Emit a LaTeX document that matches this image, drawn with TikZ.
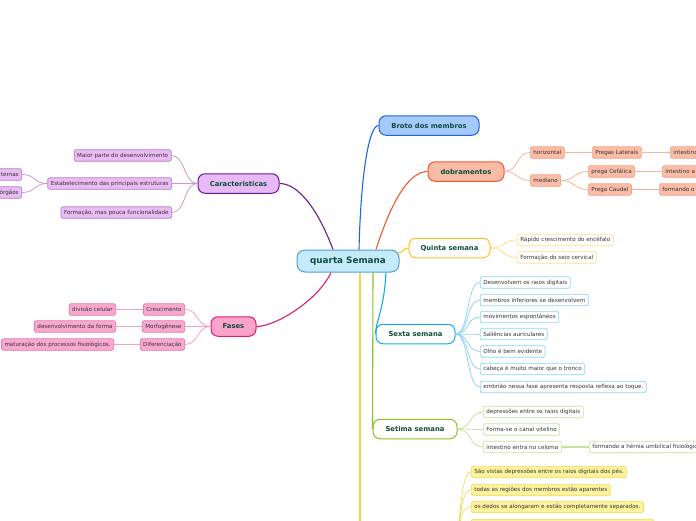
\documentclass[tikz,border=0pt]{standalone}
\usepackage{fontspec}
\setmainfont{DejaVu Sans}
\definecolor{tealtxt}{HTML}{0F4C3C}
\definecolor{leaftxt}{HTML}{333333}
\definecolor{cenfill}{HTML}{C5EBFB}
\definecolor{cendraw}{HTML}{4C9FD4}
\definecolor{brfill}{HTML}{A5C9FA}
\definecolor{brdraw}{HTML}{1F66D6}
\definecolor{dofill}{HTML}{F8BBA6}
\definecolor{dodraw}{HTML}{F2582A}
\definecolor{dolfill}{HTML}{FBBDA7}
\definecolor{doldraw}{HTML}{F6A084}
\definecolor{dolline}{HTML}{F8B39C}
\definecolor{qudraw}{HTML}{F9C030}
\definecolor{quldraw}{HTML}{FDDF8E}
\definecolor{sedraw}{HTML}{19A8E6}
\definecolor{seldraw}{HTML}{8FD4F4}
\definecolor{stdraw}{HTML}{88C322}
\definecolor{stldraw}{HTML}{C6E29C}
\definecolor{cafill}{HTML}{E7B9F6}
\definecolor{cadraw}{HTML}{6D1D8A}
\definecolor{calfill}{HTML}{E9BCF4}
\definecolor{caldraw}{HTML}{B57BC8}
\definecolor{calline}{HTML}{C59AD6}
\definecolor{fafill}{HTML}{FBA4CB}
\definecolor{fadraw}{HTML}{E5196D}
\definecolor{falfill}{HTML}{F8A9CF}
\definecolor{faldraw}{HTML}{EA73AD}
\definecolor{falline}{HTML}{F2A1C6}
\definecolor{yeline}{HTML}{EFD93A}
\definecolor{yelfill}{HTML}{FDF29E}
\definecolor{yeldraw}{HTML}{F1DC66}
\begin{document}
\begin{tikzpicture}[x=1pt,y=-1pt,
  mainnode/.style={rounded corners=7pt, line width=1pt, text=tealtxt,
    font=\fontsize{6.8}{8}\selectfont\bfseries, minimum height=19.5pt, inner sep=0pt},
  leaf/.style={rounded corners=1.5pt, line width=0.7pt, text=leaftxt,
    font=\fontsize{5.6}{6.5}\selectfont, minimum height=11.5pt, inner xsep=3pt, inner ysep=0pt},
  cutr/.style={leaf, anchor=west, text width=50pt, align=left},
  cutl/.style={leaf, anchor=east, text width=30pt, align=right},
  br/.style={line width=1.1pt},
  sub/.style={line width=0.8pt},
  thick2/.style={line width=1.6pt}
]
\useasboundingbox (0,0) rectangle (696,520);
\clip (0,0) rectangle (696,520);

% ---------- main nodes ----------
\node[mainnode, fill=cenfill, draw=cendraw, minimum width=102pt, minimum height=22pt,
  rounded corners=8pt, font=\fontsize{8.8}{10}\selectfont\bfseries] (cen) at (348,261) {quarta Semana};
\node[mainnode, fill=brfill, draw=brdraw, minimum width=100pt] (broto) at (429,125.5) {Broto dos membros};
\node[mainnode, fill=dofill, draw=dodraw, minimum width=76pt] (dob) at (466,171.5) {dobramentos};
\node[mainnode, fill=white, draw=qudraw, minimum width=81pt] (quinta) at (449.5,248) {Quinta semana};
\node[mainnode, fill=white, draw=sedraw, minimum width=79pt] (sexta) at (415.5,334) {Sexta semana};
\node[mainnode, fill=white, draw=stdraw, minimum width=84pt] (setima) at (415,429) {Setima semana};
\node[mainnode, fill=cafill, draw=cadraw, minimum width=81pt] (carac) at (238.5,183.5) {Caracteristicas};
\node[mainnode, fill=fafill, draw=fadraw, minimum width=45pt] (fases) at (233.5,326.5) {Fases};
\coordinate (ybot) at (360,530);
\coordinate (yroot) at (455,548);

% ---------- main branches ----------
\draw[br, brdraw] ([xshift=11pt]cen.north) .. controls +(2,-80) and +(-9,0) .. (broto.west);
\draw[br, dodraw] ([xshift=28pt]cen.north) .. controls +(16,-50) and +(-18,0) .. (dob.west);
\draw[br, cadraw] ([xshift=-15pt]cen.north) .. controls +(-15,-40) and +(19,0) .. (carac.east);
\draw[br, qudraw] ([xshift=-2pt,yshift=8pt]cen.east) .. controls +(6,0) and +(-6,0) .. (quinta.west);
\draw[br, sedraw] ([xshift=38pt]cen.south) .. controls +(-2,38) and +(0,-12) .. (sexta.west);
\draw[br, stdraw] ([xshift=25pt]cen.south) -- (setima.west);
\draw[br, fadraw] ([xshift=-17pt]cen.south) .. controls +(-13,28) and +(19,0) .. (fases.east);
\draw[br, yeline] ([xshift=12pt]cen.south) -- (ybot);

% ---------- Caracteristicas ----------
\node[leaf, fill=calfill, draw=caldraw, anchor=east] (c1) at (171.5,155.5) {Maior parte do desenvolvimento};
\node[leaf, fill=calfill, draw=caldraw, anchor=east] (c2) at (172,183.5) {Estabelecimento das principais estruturas};
\node[leaf, fill=calfill, draw=caldraw, anchor=east] (c3) at (172,212.5) {Formação, mas pouca funcionalidade};
\node[cutl, fill=calfill, draw=caldraw] (c21) at (22,174.5) {ternas};
\node[cutl, fill=calfill, draw=caldraw] (c22) at (22,192.5) {órgãos};
\foreach \c in {c1,c2,c3}
  \draw[sub, calline] (carac.west) .. controls +(-14,0) and +(14,0) .. (\c.east);
\foreach \c in {c21,c22}
  \draw[sub, calline] (c2.west) .. controls +(-14,0) and +(14,0) .. (\c.east);

% ---------- Fases ----------
\node[leaf, fill=falfill, draw=faldraw, anchor=east] (f1) at (185,309.5) {Crescimento};
\node[leaf, fill=falfill, draw=faldraw, anchor=east] (f2) at (185,326.5) {Morfogênese};
\node[leaf, fill=falfill, draw=faldraw, anchor=east] (f3) at (185,344.5) {Diferenciação};
\node[leaf, fill=falfill, draw=faldraw, anchor=east] (f11) at (116,309.5) {divisão celular};
\node[leaf, fill=falfill, draw=faldraw, anchor=east] (f21) at (116,326.5) {desenvolvimento da forma};
\node[leaf, fill=falfill, draw=faldraw, anchor=east] (f31) at (114,344.5) {maturação dos processos fisiológicos.};
\foreach \c in {f1,f2,f3}
  \draw[sub, falline] (fases.west) .. controls +(-14,0) and +(14,0) .. (\c.east);
\draw[sub, falline] (f1.west) -- (f11.east);
\draw[sub, falline] (f2.west) -- (f21.east);
\draw[sub, falline] (f3.west) -- (f31.east);

% ---------- dobramentos ----------
\node[leaf, fill=dolfill, draw=doldraw, anchor=west] (d1) at (530,152.5) {horizontal};
\node[leaf, fill=dolfill, draw=doldraw, anchor=west] (d2) at (530,180.5) {mediano};
\node[leaf, fill=dolfill, draw=doldraw, anchor=west] (d11) at (592,152.5) {Pregas Laterais};
\node[leaf, fill=dolfill, draw=doldraw, anchor=west] (d21) at (588,171.5) {prega Cefálica};
\node[leaf, fill=dolfill, draw=doldraw, anchor=west] (d22) at (588,189.5) {Prega Caudal};
\node[cutr, fill=dolfill, draw=doldraw] (d111) at (670,152.5) {intestino};
\node[cutr, fill=dolfill, draw=doldraw] (d211) at (662,171.5) {intestino a};
\node[cutr, fill=dolfill, draw=doldraw] (d221) at (659,189.5) {formando o};
\foreach \c in {d1,d2}
  \draw[sub, dolline] (dob.east) .. controls +(14,0) and +(-14,0) .. (\c.west);
\draw[thick2, dolline] (d1.east) -- (d11.west);
\foreach \c in {d21,d22}
  \draw[sub, dolline] (d2.east) .. controls +(14,0) and +(-14,0) .. (\c.west);
\draw[thick2, dolline] (d11.east) -- (d111.west);
\draw[thick2, dolline] (d21.east) -- (d211.west);
\draw[thick2, dolline] (d22.east) -- (d221.west);

% ---------- Quinta semana ----------
\node[leaf, fill=white, draw=quldraw, anchor=west] (q1) at (517,240) {Rápido crescimento do encéfalo};
\node[leaf, fill=white, draw=quldraw, anchor=west] (q2) at (517,257.5) {Formação do seio cervical};
\foreach \c in {q1,q2}
  \draw[sub, quldraw] (quinta.east) .. controls +(14,0) and +(-14,0) .. (\c.west);

% ---------- Sexta semana ----------
\node[leaf, fill=white, draw=seldraw, anchor=west] (s1) at (480,282.5) {Desenvolvem os raios digitais};
\node[leaf, fill=white, draw=seldraw, anchor=west] (s2) at (480,300) {membros inferiores se desenvolvem};
\node[leaf, fill=white, draw=seldraw, anchor=west] (s3) at (480,317) {movimentos espontâneos};
\node[leaf, fill=white, draw=seldraw, anchor=west] (s4) at (480,334) {Saliências auriculares};
\node[leaf, fill=white, draw=seldraw, anchor=west] (s5) at (480,351.5) {Olho é bem evidente};
\node[leaf, fill=white, draw=seldraw, anchor=west] (s6) at (480,369) {cabeça é muito maior que o tronco};
\node[leaf, fill=white, draw=seldraw, anchor=west] (s7) at (480,387) {embrião nessa fase apresenta resposta reflexa ao toque.};
\foreach \c in {s1,s2,s3,s4,s5,s6,s7}
  \draw[sub, seldraw] (sexta.east) .. controls +(14,0) and +(-14,0) .. (\c.west);

% ---------- Setima semana ----------
\node[leaf, fill=white, draw=stldraw, anchor=west] (t1) at (483,412) {depressões entre os raios digitais};
\node[leaf, fill=white, draw=stldraw, anchor=west] (t2) at (483,429.5) {Forma-se o canal vitelino};
\node[leaf, fill=white, draw=stldraw, anchor=west] (t3) at (483,447) {intestino entra no celoma};
\node[leaf, fill=white, draw=stldraw, anchor=west] (t31) at (589,447) {formando a hérnia umbilical fisiológica};
\foreach \c in {t1,t2,t3}
  \draw[sub, stldraw] (setima.east) .. controls +(14,0) and +(-14,0) .. (\c.west);
\draw[thick2, stldraw] (t3.east) -- (t31.west);

% ---------- bottom (yellow) ----------
\node[leaf, fill=yelfill, draw=yeldraw, anchor=west] (y1) at (471,472) {São vistas depressões entre os raios digitais dos pés.};
\node[leaf, fill=yelfill, draw=yeldraw, anchor=west] (y2) at (471,490) {todas as regiões dos membros estão aparentes};
\node[leaf, fill=yelfill, draw=yeldraw, anchor=west] (y3) at (471,507) {os dedos se alongaram e estão completamente separados.};
\node[leaf, fill=yelfill, draw=yeldraw, anchor=west, minimum width=182pt] (y4) at (471,525) {};
\foreach \c in {y1,y2,y3,y4}
  \draw[sub, yeldraw] (yroot) .. controls +(6,-30) and +(-10,0) .. (\c.west);
\end{tikzpicture}
\end{document}
